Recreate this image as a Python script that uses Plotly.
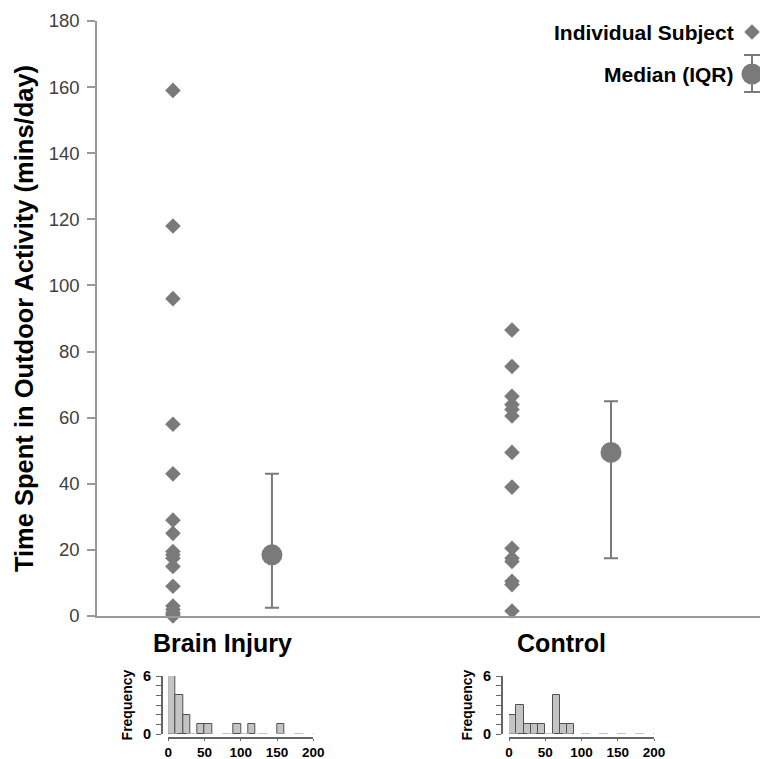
import plotly.graph_objects as go

W, H = 760, 759

categories = ["Brain Injury", "Control"]
brain_injury = [159, 118, 96, 58, 43, 29, 25, 19.5, 18.5, 17.5, 15, 9, 3, 2, 1, 0.5, 0]
control = [86.5, 75.5, 66.5, 64, 62.5, 60.5, 49.5, 39, 20.5, 17.5, 16.5, 10.5, 9.5, 1.5]
medians = [18.5, 49.5]
q1 = [2.5, 17.5]
q3 = [43, 65]
y_ticks = [0, 20, 40, 60, 80, 100, 120, 140, 160, 180]
hist_ticks = [0, 50, 100, 150, 200]

GREY = "#7a7a7a"
FONT = "Liberation Sans, Arial, sans-serif"

def px_x(p):
    return p / W

def px_y(p):
    return 1 - p / H

cat_pos = [1, 2]
off = 0.146

fig = go.Figure()

# individual subjects
for i, vals in enumerate([brain_injury, control]):
    fig.add_trace(go.Scatter(
        x=[cat_pos[i] - off] * len(vals), y=vals, mode="markers",
        marker=dict(symbol="diamond", size=12, color=GREY),
        showlegend=False, hoverinfo="y", cliponaxis=False))

# medians with IQR
fig.add_trace(go.Scatter(
    x=[p + off for p in cat_pos], y=medians, mode="markers",
    marker=dict(symbol="circle", size=21, color=GREY),
    error_y=dict(type="data", symmetric=False,
                 array=[q3[i] - medians[i] for i in range(2)],
                 arrayminus=[medians[i] - q1[i] for i in range(2)],
                 color=GREY, thickness=2, width=7),
    showlegend=False))

# inset histograms
for vals, xa, ya in [(brain_injury, "x2", "y2"), (control, "x4", "y4")]:
    fig.add_trace(go.Histogram(
        x=vals, xbins=dict(start=0, end=200, size=10), autobinx=False,
        marker=dict(color="#c4c4c4", line=dict(color="#505050", width=1)),
        xaxis=xa, yaxis=ya, showlegend=False, cliponaxis=False))
    fig.add_trace(go.Scatter(
        x=[0, 200], y=[0, 0], mode="lines",
        line=dict(color="#b0b0b0", width=1.5, dash="dash"),
        xaxis=xa, yaxis=ya, showlegend=False, hoverinfo="skip"))

# legend glyphs on a hidden pixel overlay
fig.add_trace(go.Scatter(
    x=[752], y=[32], mode="markers",
    marker=dict(symbol="diamond", size=12, color=GREY),
    xaxis="x3", yaxis="y3", showlegend=False, hoverinfo="skip", cliponaxis=False))
fig.add_trace(go.Scatter(
    x=[752], y=[74], mode="markers",
    marker=dict(symbol="circle", size=21, color=GREY),
    error_y=dict(type="data", symmetric=False, array=[18], arrayminus=[19],
                 color=GREY, thickness=2, width=8),
    xaxis="x3", yaxis="y3", showlegend=False, hoverinfo="skip", cliponaxis=False))

x_left = 0.630
x_right = 2.5855

fig.update_layout(
    width=W, height=H,
    margin=dict(l=0, r=0, t=0, b=0, autoexpand=False),
    paper_bgcolor="white", plot_bgcolor="rgba(0,0,0,0)",
    font=dict(family=FONT, color="#000"),
    bargap=0,
    xaxis=dict(domain=[px_x(97), 1], range=[x_left, x_right], automargin=False,
               tickvals=cat_pos, ticktext=categories,
               tickfont=dict(size=25, family=FONT, color="#000", weight="bold"),
               showline=True, linecolor="#999", linewidth=1.5,
               showgrid=False, zeroline=False, ticks="", ticklabelstandoff=4),
    yaxis=dict(domain=[px_y(616), px_y(21)], range=[0, 180], automargin=False,
               tickvals=y_ticks, tickfont=dict(size=18.5, color="#404040"),
               showline=True, linecolor="#999", linewidth=1.5,
               ticks="outside", ticklen=8, tickcolor="#999", tickwidth=1.5,
               ticklabelstandoff=4,
               showgrid=False, zeroline=False,
               title=dict(text="Time Spent in Outdoor Activity (mins/day)",
                          font=dict(size=25.5, weight="bold"), standoff=8)),
    xaxis3=dict(domain=[0, 1], range=[0, W], visible=False, fixedrange=True,
                anchor="y3", automargin=False),
    yaxis3=dict(domain=[0, 1], range=[H, 0], visible=False, fixedrange=True,
                anchor="x3", automargin=False),
)

for xa, ya, x0, yline in [("xaxis2", "yaxis2", 168.3, 161.7), ("xaxis4", "yaxis4", 509, 501.7)]:
    fig.update_layout(**{
        xa: dict(domain=[px_x(x0), px_x(x0 + 145)], range=[0, 200], automargin=False,
                 anchor="free", position=px_y(738),
                 tickvals=hist_ticks, ticks="outside", ticklen=2, tickcolor="#666",
                 tickfont=dict(size=13.5, weight="bold", color="#000"),
                 showline=True, linecolor="#666", linewidth=1.5,
                 showgrid=False, zeroline=False, ticklabelstandoff=0),
        ya: dict(domain=[px_y(734), px_y(676)], range=[0, 6], automargin=False,
                 anchor="free", position=px_x(yline),
                 tickvals=[0, 1, 2, 3, 4, 5, 6], ticktext=["0", "", "", "", "", "", "6"],
                 ticks="outside", ticklen=5, tickcolor="#666",
                 tickfont=dict(size=14.5, weight="bold", color="#000"),
                 showline=True, linecolor="#666", linewidth=1.5,
                 showgrid=False, zeroline=False, ticklabelstandoff=2,
                 title=dict(text="Frequency", font=dict(size=14, weight="bold"), standoff=6)),
    })

fig.add_annotation(text="Individual Subject", xref="paper", yref="paper",
                   x=px_x(736), y=px_y(32), xanchor="right", yanchor="middle",
                   showarrow=False, font=dict(size=21, weight="bold", color="#000"))
fig.add_annotation(text="Median (IQR)", xref="paper", yref="paper",
                   x=px_x(736), y=px_y(74), xanchor="right", yanchor="middle",
                   showarrow=False, font=dict(size=21, weight="bold", color="#000"))

fig.write_html("out.html", config={"displayModeBar": False},
               post_script="document.body.style.margin='0';document.body.style.overflow='hidden';")
